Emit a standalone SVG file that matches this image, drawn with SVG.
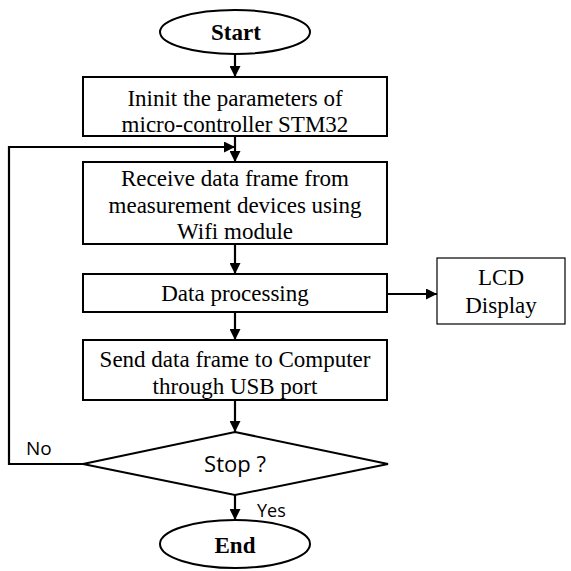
<svg xmlns="http://www.w3.org/2000/svg" width="571" height="571" viewBox="0 0 571 571">
  <style>
    .shape { fill: #ffffff; stroke: #000000; stroke-width: 2; }
    .thin { fill: #ffffff; stroke: #000000; stroke-width: 1.2; }
    .wire { fill: none; stroke: #000000; stroke-width: 2.2; }
    .serif { font-family: "Liberation Serif", "Times New Roman", serif; font-size: 23px; fill: #000; text-anchor: middle; }
    .bold { font-weight: bold; }
    .sans { font-family: "Open Sans", "Liberation Sans", sans-serif; fill: #000; }
  </style>
  <defs>
    <marker id="arrow" viewBox="0 0 10 10" refX="10" refY="5" markerWidth="5" markerHeight="5" orient="auto" markerUnits="strokeWidth">
      <path d="M0,0 L10,5 L0,10 z" fill="#000"/>
    </marker>
  </defs>

  <g id="connectors">
    <line class="wire" x1="235" y1="54" x2="235" y2="77" marker-end="url(#arrow)"/>
    <line class="wire" x1="235" y1="136" x2="235" y2="162" marker-end="url(#arrow)"/>
    <line class="wire" x1="235" y1="244" x2="235" y2="274" marker-end="url(#arrow)"/>
    <line class="wire" x1="235" y1="312" x2="235" y2="340" marker-end="url(#arrow)"/>
    <line class="wire" x1="235" y1="400" x2="235" y2="432" marker-end="url(#arrow)"/>
    <line class="wire" x1="235" y1="495" x2="235" y2="520" marker-end="url(#arrow)"/>
    <line class="wire" x1="387" y1="294" x2="437" y2="294" marker-end="url(#arrow)"/>
    <polyline class="wire" points="84,464 9,464 9,147 235,147" marker-end="url(#arrow)"/>
  </g>

  <g id="start">
    <ellipse class="shape" cx="235" cy="32" rx="75" ry="22"/>
    <text class="serif bold" x="236" y="40">Start</text>
  </g>

  <g id="init">
    <rect class="shape" x="83" y="77" width="304" height="59"/>
    <text class="serif" x="235" y="106">Ininit the parameters of</text>
    <text class="serif" x="235" y="132">micro-controller STM32</text>
  </g>

  <g id="receive">
    <rect class="shape" x="83" y="162" width="304" height="82"/>
    <text class="serif" x="235" y="186">Receive data frame from</text>
    <text class="serif" x="235" y="213">measurement devices using</text>
    <text class="serif" x="235" y="239">Wifi module</text>
  </g>

  <g id="processing">
    <rect class="shape" x="83" y="274" width="304" height="38"/>
    <text class="serif" x="235" y="301">Data processing</text>
  </g>

  <g id="lcd">
    <rect class="thin" x="437" y="258" width="128" height="66"/>
    <text class="serif" x="501" y="285">LCD</text>
    <text class="serif" x="501" y="313">Display</text>
  </g>

  <g id="send">
    <rect class="shape" x="83" y="340" width="304" height="60"/>
    <text class="serif" x="235" y="367">Send data frame to Computer</text>
    <text class="serif" x="235" y="394">through USB port</text>
  </g>

  <g id="stop">
    <polygon class="shape" points="235,432 388,464 235,495 83,464"/>
    <text class="sans" x="235" y="472" font-size="22" text-anchor="middle">Stop ?</text>
  </g>

  <g id="labels">
    <text class="sans" x="26" y="455" font-size="19">No</text>
    <text class="sans" x="257" y="517" font-size="18">Yes</text>
  </g>

  <g id="end">
    <ellipse class="shape" cx="235" cy="544" rx="75" ry="24"/>
    <text class="serif bold" x="235" y="553">End</text>
  </g>
</svg>
